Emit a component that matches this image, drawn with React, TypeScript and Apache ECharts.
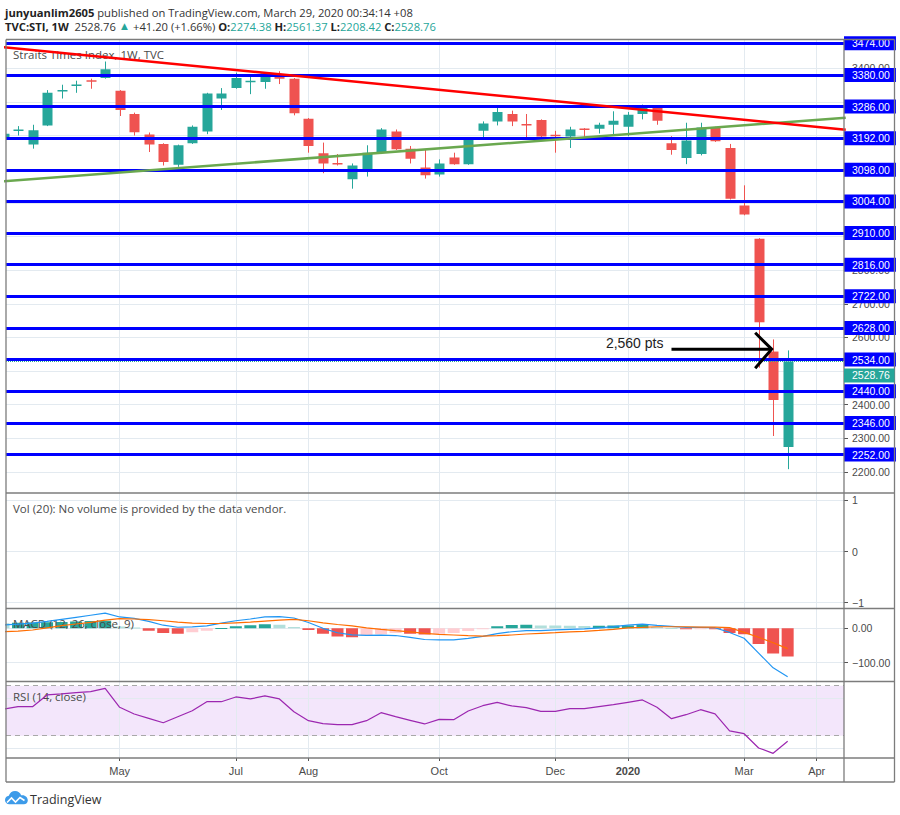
import React, { useEffect, useRef } from "react";
import * as echarts from "echarts";

// ---------------- data ----------------
// weekly bars, index 0 = week of 2019-03-11 ... index 54 = week of 2020-03-23
const opens = [3190, 3214, 3173, 3230, 3331, 3348, 3364, 3371, 3333, 3264, 3203, 3175, 3113, 3177, 3212, 3310, 3341, 3359, 3359, 3379, 3369, 3250, 3147, 3118, 3070, 3097, 3149, 3212, 3161, 3105, 3084, 3135, 3115, 3214, 3242, 3264, 3234, 3246, 3202, 3197, 3221, 3220, 3232, 3226, 3264, 3286, 3177, 3133, 3145, 3224, 3163, 2992, 2893, 2558, 2274.38];
const closes = [3205, 3218, 3216, 3327, 3335, 3352, 3360, 3397, 3276, 3210, 3173, 3121, 3171, 3226, 3325, 3325, 3371, 3363, 3385, 3369, 3266, 3169, 3117, 3115, 3111, 3149, 3218, 3159, 3131, 3082, 3117, 3115, 3191, 3236, 3270, 3242, 3230, 3197, 3198, 3218, 3219, 3232, 3244, 3262, 3286, 3244, 3157, 3185, 3224, 3183, 3012, 2965, 2645, 2414, 2528.76];
const lows = [3185, 3200, 3161, 3228, 3310, 3327, 3339, 3369, 3258, 3200, 3151, 3111, 3107, 3175, 3204, 3276, 3339, 3323, 3339, 3353, 3260, 3149, 3088, 3111, 3042, 3078, 3145, 3157, 3117, 3072, 3078, 3113, 3113, 3189, 3230, 3228, 3193, 3185, 3149, 3163, 3193, 3206, 3203, 3198, 3248, 3232, 3143, 3115, 3141, 3181, 3010, 2963, 2510, 2307, 2208.42];
const highs = [3210, 3228, 3232, 3335, 3351, 3363, 3369, 3420, 3335, 3268, 3209, 3177, 3173, 3230, 3327, 3341, 3387, 3379, 3387, 3391, 3371, 3252, 3179, 3145, 3117, 3171, 3222, 3218, 3169, 3159, 3129, 3149, 3193, 3242, 3290, 3274, 3264, 3248, 3214, 3226, 3222, 3238, 3272, 3270, 3292, 3288, 3198, 3238, 3238, 3226, 3175, 3052, 2895, 2594, 2561.37];

const macdLine = [10, 12, 15, 20, 26, 32, 38, 44, 33, 29, 20, 9, 3, 4, 7, 15, 22, 27, 33, 34, 30, 17, 0, -13, -19, -20.5, -20, -21, -26.6, -32.5, -33.5, -33.5, -29.5, -23.5, -15.5, -10, -6.5, -6.5, -4.6, -3, -1.7, 1.5, 5, 9, 12, 8.5, 5.5, 2.5, 2.7, 1.7, -12, -29, -72, -115, -140.7];
const signalLine = [-10, -8, -5, 1.5, 7.6, 12.5, 17, 24, 28, 27, 25, 22, 18, 15, 14, 14, 16, 18, 21, 24, 26, 22, 16, 11, 7, 1.5, -3, -7, -10.6, -14.5, -17.5, -19.5, -21.5, -22.5, -21.5, -19.5, -16.5, -14.5, -12.6, -10.5, -8.7, -6, -3, 1, 2.5, 4.5, 4.5, 4.5, 3.7, 3.7, 2, -12, -26, -42, -59];
const macdHist = [15, 16, 17, 17.5, 18.5, 19.5, 21, 22, 5, 2.5, -7, -14, -16, -11.5, -7, 1, 6, 9, 12, 10, 4, -5, -16, -24, -26, -22, -17, -14, -16, -18, -16, -14, -8, -1, 6, 9.5, 10, 8, 8, 7.5, 7, 7.5, 8, 8.5, 9.5, 4, 1, -2, -1, -2, -14, -17, -46, -73, -81.7];
const rsiLine = [51.3, 53.2, 53.2, 62.6, 63.4, 64.4, 65.2, 67.9, 52.7, 47.4, 43.9, 40.4, 45.2, 50, 57.2, 57.2, 61, 59.4, 61.8, 59.4, 49.2, 42, 39.6, 38.9, 38.9, 42, 48.4, 45.2, 42.3, 39.4, 43.1, 42.8, 49.8, 54, 56.7, 53.8, 52.4, 49.5, 49.5, 51.6, 51.6, 53.2, 54.8, 56.7, 58.6, 52.7, 43.6, 46.8, 50.8, 47.4, 33.8, 31.6, 20.2, 15.9, 25.5];

const priceLevels = [3474, 3380, 3286, 3192, 3098, 3004, 2910, 2816, 2722, 2628, 2534, 2440, 2346, 2252];
const priceGrid = [2200, 2300, 2400, 2500, 2600, 2700, 2800, 2900, 3000, 3100, 3200, 3300, 3400];
const priceTickLabels = [2200, 2300, 2400, 2600, 2700, 2800, 3400];
const volTicks = [-1, 0, 1];
const macdTicks = [-100, 0];
const rsiGridTicks = [20, 60];
const rsiBand = [30, 70];
const monthTickIndex = [8, 16, 21, 30, 38, 43, 51, 56];
const monthTickLabels = ["May", "Jul", "Aug", "Oct", "Dec", "2020", "Mar", "Apr"];
const redTrend = [[0, 3462.5], [58, 3217.5]];
const greenTrend = [[0, 3064], [58, 3253]];
const lastPrice = 2528.76;
const arrowTip = [52.9, 2565];
const arrowTail = [46.0, 2565];
const arrowLabel = "2,560 pts";

// ---------------- styles / layout ----------------
const TEAL = "#26a69a";
const RED = "#ef5350";
const BLUE = "#0000ff";
const GRID = "#e3eaf0";
const SEP = "#7c7c7c";
const TXT = "#4a4a4a";
const FONT = "'Open Sans', 'Liberation Sans', sans-serif";
const AFONT = "'Liberation Sans', 'DejaVu Sans', sans-serif";

const X_MIN = 0.172;
const X_MAX = 57.88;
const PANES = [
  { top: 39.5, height: 453.5, min: 2137.6, max: 3485.4 },
  { top: 493, height: 115.5, min: -1.113, max: 1.143 },
  { top: 608.5, height: 73, min: -154.7, max: 57.6 },
  { top: 681.5, height: 76.5, min: 12.16, max: 73.36 },
];
const LEFT = 6;
const PLOT_RIGHT = 844;
const RIGHT = 894.5;
const BOTTOM = 782;

const LOGO_D =
  "M4.5 14 C2 14 0 12 0 9.5 C0 7.2 1.8 5.3 4 5.1 C4.8 2.1 7.5 0 10.6 0 C13.6 0 16.1 1.9 17 4.6 C17.5 4.5 18 4.4 18.5 4.4 C21.5 4.4 24 6.9 24 9.9 C24 12.2 22.2 14 19.9 14 Z";
echarts.graphic.registerShape("tvlogo", echarts.graphic.extendPath(LOGO_D, {}));

function histColor(i: number) {
  const v = macdHist[i];
  const prev = i > 0 ? macdHist[i - 1] : v + 1;
  if (v >= 0) return v > prev ? "#26a69a" : "#b2dfdb";
  return v < prev ? "#ef5350" : "#ffcdd2";
}

function vGridLines() {
  return monthTickIndex.map((v) => ({ xAxis: v }));
}

export default function App() {
  const ref = useRef<HTMLDivElement>(null);

  useEffect(() => {
    if (!ref.current) return;
    const chart = echarts.init(ref.current, undefined, { renderer: "svg" });

    const candleRows = opens.map((o, i) => [i, o, closes[i], lows[i], highs[i]]);
    const histRows = macdHist.map((v, i) => [i, v]);

    const grids = PANES.map((p) => ({
      left: LEFT,
      right: 900 - PLOT_RIGHT,
      top: p.top,
      height: p.height,
      show: false,
    }));

    const xAxes = PANES.map((p, k) => ({
      gridIndex: k,
      type: "value",
      min: X_MIN,
      max: X_MAX,
      axisLine: { show: false },
      splitLine: { show: false },
      axisTick: {
        show: k === 3,
        customValues: monthTickIndex,
        length: 3,
        lineStyle: { color: "#555" },
      },
      axisLabel: {
        show: k === 3,
        customValues: monthTickIndex,
        margin: 7,
        fontSize: 11,
        fontFamily: AFONT,
        color: TXT,
        formatter: (v: number) => {
          const j = monthTickIndex.findIndex((m) => Math.abs(m - v) < 0.01);
          if (j < 0) return "";
          const s = monthTickLabels[j];
          return s === "2020" ? "{b|" + s + "}" : s;
        },
        rich: { b: { fontWeight: "bold", fontSize: 11, fontFamily: AFONT, color: TXT } },
      },
    }));

    const labelSets = [priceTickLabels, volTicks, macdTicks, rsiGridTicks];
    const tickSets = [priceGrid, volTicks, macdTicks, rsiGridTicks];
    const fmt = [
      (v: number) => v.toFixed(2),
      (v: number) => (v < 0 ? "\u2212" + Math.abs(v) : String(v)),
      (v: number) => (v < 0 ? "\u2212" + Math.abs(v).toFixed(2) : v.toFixed(2)),
      (v: number) => String(v),
    ];
    const yAxes = PANES.map((p, k) => ({
      gridIndex: k,
      type: "value",
      position: "right",
      min: p.min,
      max: p.max,
      axisLine: { show: false },
      splitLine: { show: false },
      axisTick: {
        show: k !== 3,
        customValues: tickSets[k],
        length: 4,
        lineStyle: { color: "#555" },
      },
      axisLabel: {
        show: k !== 3,
        customValues: labelSets[k],
        margin: 8,
        fontSize: 10.5,
        fontFamily: AFONT,
        color: TXT,
        formatter: fmt[k],
      },
    }));

    const gridLineStyle = { color: GRID, width: 1, type: "solid" };

    const series: any[] = [
      // main pane: candles
      {
        type: "custom",
        xAxisIndex: 0,
        yAxisIndex: 0,
        clip: true,
        z: 3,
        data: candleRows,
        encode: { x: 0, y: [1, 2, 3, 4] },
        renderItem: (params: any, api: any) => {
          const i = api.value(0);
          const po = api.coord([i, api.value(1)]);
          const pc = api.coord([i, api.value(2)]);
          const pl = api.coord([i, api.value(3)]);
          const ph = api.coord([i, api.value(4)]);
          const color = api.value(2) >= api.value(1) ? TEAL : RED;
          const cx = Math.round(po[0]) + 0.5;
          const top = Math.min(po[1], pc[1]);
          const h = Math.max(Math.abs(po[1] - pc[1]), 1.5);
          return {
            type: "group",
            children: [
              { type: "line", shape: { x1: cx, y1: ph[1], x2: cx, y2: pl[1] }, style: { stroke: color, lineWidth: 1 } },
              { type: "rect", shape: { x: cx - 5, y: top, width: 10, height: h }, style: { fill: color } },
            ],
          };
        },
      },
      // main pane: green trend + grid lines
      {
        type: "line",
        xAxisIndex: 0,
        yAxisIndex: 0,
        data: greenTrend,
        showSymbol: false,
        silent: true,
        z: 10,
        lineStyle: { color: "#6aa84f", width: 2.5 },
        markLine: {
          silent: true,
          symbol: ["none", "none"],
          z: 1,
          label: { show: false },
          lineStyle: gridLineStyle,
          data: [...vGridLines(), ...priceGrid.map((v) => ({ yAxis: v }))],
        },
      },
      // main pane: red trend + horizontal levels
      {
        type: "line",
        xAxisIndex: 0,
        yAxisIndex: 0,
        data: redTrend,
        showSymbol: false,
        silent: true,
        z: 10,
        lineStyle: { color: "#ff0000", width: 2.5 },
        markLine: {
          silent: true,
          symbol: ["none", "none"],
          z: 5,
          lineStyle: { color: BLUE, width: 3.2, type: "solid" },
          label: {
            show: true,
            position: "end",
            distance: 0,
            color: "#ffffff",
            backgroundColor: BLUE,
            padding: [2, 6, 1, 8],
            lineHeight: 11,
            fontSize: 10.5,
            fontFamily: AFONT,
            formatter: (p: any) => Number(p.value).toFixed(2),
          },
          data: [
            { yAxis: lastPrice, lineStyle: { color: TEAL, width: 1, type: "dotted" }, label: { show: false } },
            ...priceLevels.map((v) => ({ yAxis: v })),
          ],
        },
      },
      // vol pane: placeholder carrying grid lines
      {
        type: "line",
        xAxisIndex: 1,
        yAxisIndex: 1,
        data: [[X_MIN, 0]],
        showSymbol: false,
        silent: true,
        lineStyle: { opacity: 0 },
        markLine: {
          silent: true,
          symbol: ["none", "none"],
          z: 1,
          label: { show: false },
          lineStyle: gridLineStyle,
          data: [...vGridLines(), ...volTicks.map((v) => ({ yAxis: v }))],
        },
      },
      // MACD histogram
      {
        type: "custom",
        xAxisIndex: 2,
        yAxisIndex: 2,
        clip: true,
        z: 3,
        data: histRows,
        encode: { x: 0, y: 1 },
        renderItem: (params: any, api: any) => {
          const i = api.value(0);
          const p0 = api.coord([i, 0]);
          const p1 = api.coord([i, api.value(1)]);
          return {
            type: "rect",
            shape: {
              x: p0[0] - 6,
              y: Math.min(p0[1], p1[1]),
              width: 12,
              height: Math.max(Math.abs(p1[1] - p0[1]), 1),
            },
            style: { fill: histColor(params.dataIndex) },
          };
        },
      },
      {
        type: "line",
        xAxisIndex: 2,
        yAxisIndex: 2,
        data: macdLine.map((v, i) => [i, v]),
        showSymbol: false,
        silent: true,
        z: 5,
        lineStyle: { color: "#2196f3", width: 1.2 },
        markLine: {
          silent: true,
          symbol: ["none", "none"],
          z: 1,
          label: { show: false },
          lineStyle: gridLineStyle,
          data: [...vGridLines(), ...macdTicks.map((v) => ({ yAxis: v }))],
        },
      },
      {
        type: "line",
        xAxisIndex: 2,
        yAxisIndex: 2,
        data: signalLine.map((v, i) => [i, v]),
        showSymbol: false,
        silent: true,
        z: 5,
        lineStyle: { color: "#ff6d00", width: 1.2 },
      },
      // RSI
      {
        type: "line",
        xAxisIndex: 3,
        yAxisIndex: 3,
        data: rsiLine.map((v, i) => [i, v]),
        showSymbol: false,
        silent: true,
        z: 6,
        lineStyle: { color: "#9c27b0", width: 1.2 },
        markArea: {
          silent: true,
          itemStyle: { color: "#f3e6fb" },
          data: [[{ yAxis: rsiBand[0] }, { yAxis: rsiBand[1] }]],
        },
        markLine: {
          silent: true,
          symbol: ["none", "none"],
          z: 2,
          label: { show: false },
          lineStyle: gridLineStyle,
          data: [
            ...vGridLines(),
            ...rsiGridTicks.map((v) => ({ yAxis: v })),
            ...rsiBand.map((v) => ({ yAxis: v, lineStyle: { color: "#a8a8a8", width: 1, type: [5, 4] } })),
          ],
        },
      },
    ];

    const sepY = [PANES[0].top, PANES[1].top, PANES[2].top, PANES[3].top, PANES[3].top + PANES[3].height, BOTTOM];
    const frame: any[] = [
      ...sepY.map((y) => ({
        type: "line",
        z: 50,
        shape: { x1: LEFT, y1: y, x2: RIGHT, y2: y },
        style: { stroke: SEP, lineWidth: 1.3 },
      })),
      ...[LEFT, PLOT_RIGHT, RIGHT].map((x) => ({
        type: "line",
        z: 50,
        shape: { x1: x, y1: PANES[0].top, x2: x, y2: BOTTOM },
        style: { stroke: SEP, lineWidth: 1.3 },
      })),
    ];

    const texts: any[] = [
      {
        type: "text",
        x: 5,
        y: 12,
        z: 60,
        style: {
          text: "{b|junyuanlim2605} published on TradingView.com, March 29, 2020 00:34:14 +08",
          fontSize: 11.2,
          fontFamily: FONT,
          fill: "#333",
          verticalAlign: "middle",
          rich: { b: { fontWeight: "bold", fontSize: 11.2, fontFamily: FONT, fill: "#222" } },
        },
      },
      {
        type: "text",
        x: 5,
        y: 26,
        z: 60,
        style: {
          text:
            "{b|TVC:STI, 1W}  2528.76 {t|\u25B2} +41.20 (+1.66%) {b|O:}{v|2274.38} {b|H:}{v|2561.37} {b|L:}{v|2208.42} {b|C:}{v|2528.76}",
          fontSize: 11.2,
          fontFamily: FONT,
          fill: "#333",
          verticalAlign: "middle",
          rich: {
            b: { fontWeight: "bold", fontSize: 11.2, fontFamily: FONT, fill: "#222" },
            v: { fontSize: 11.2, fontFamily: FONT, fill: TEAL },
            t: { fontSize: 11.5, fontFamily: AFONT, fill: TEAL },
          },
        },
      },
      { type: "text", x: 13, y: 54, z: 1, style: { text: "Straits Times Index, 1W, TVC", fontSize: 11.5, fontFamily: FONT, fill: TXT, verticalAlign: "middle" } },
      { type: "text", x: 13, y: 508, z: 60, style: { text: "Vol (20): No volume is provided by the data vendor.", fontSize: 11.5, fontFamily: FONT, fill: TXT, verticalAlign: "middle" } },
      { type: "text", x: 13, y: 623.5, z: 4, style: { text: "MACD (12, 26, close, 9)", fontSize: 11.5, fontFamily: FONT, fill: TXT, verticalAlign: "middle" } },
      { type: "text", x: 13, y: 696, z: 4, style: { text: "RSI (14, close)", fontSize: 11.5, fontFamily: FONT, fill: TXT, verticalAlign: "middle" } },
      { type: "tvlogo", x: 5, y: 791, scaleX: 0.95, scaleY: 0.95, z: 60, style: { fill: "#3d9be9" } },
      {
        type: "polyline",
        z: 61,
        shape: { points: [[7, 802.5], [11.5, 798], [15.5, 802], [20, 797.5], [24.5, 800.5]] },
        style: { stroke: "#ffffff", lineWidth: 1.6, fill: null },
      },
      { type: "text", x: 30, y: 799, z: 60, style: { text: "TradingView", fontSize: 12.5, fontFamily: FONT, fill: "#333", verticalAlign: "middle" } },
    ];

    chart.setOption({
      animation: false,
      backgroundColor: "#ffffff",
      grid: grids,
      xAxis: xAxes,
      yAxis: yAxes,
      series,
    });

    // annotations anchored to data coordinates
    const tip = chart.convertToPixel({ gridIndex: 0 }, arrowTip) as number[];
    const tail = chart.convertToPixel({ gridIndex: 0 }, arrowTail) as number[];
    const lastY = chart.convertToPixel({ yAxisIndex: 0 }, lastPrice) as unknown as number;

    const annotations: any[] = [
      {
        type: "line",
        z: 70,
        shape: { x1: tail[0], y1: tail[1], x2: tip[0] - 1, y2: tip[1] },
        style: { stroke: "#000", lineWidth: 3 },
      },
      {
        type: "polyline",
        z: 70,
        shape: { points: [[tip[0] - 16.5, tip[1] - 16.5], [tip[0], tip[1]], [tip[0] - 16.5, tip[1] + 19]] },
        style: { stroke: "#000", lineWidth: 3, fill: null },
      },
      {
        type: "text",
        z: 70,
        x: tail[0] - 8,
        y: tail[1] - 6.5,
        style: { text: arrowLabel, fontSize: 14, fontFamily: AFONT, fill: "#222", align: "right", verticalAlign: "middle" },
      },
      {
        type: "rect",
        z: 70,
        shape: { x: PLOT_RIGHT, y: lastY + 14 - 7, width: RIGHT - PLOT_RIGHT, height: 14 },
        style: { fill: TEAL },
      },
      {
        type: "text",
        z: 71,
        x: PLOT_RIGHT + 8,
        y: lastY + 14,
        style: { text: lastPrice.toFixed(2), fontSize: 10.5, fontFamily: AFONT, fill: "#fff", verticalAlign: "middle" },
      },
    ];

    chart.setOption({ graphic: { elements: [...frame, ...texts, ...annotations] } });

    return () => {
      chart.dispose();
    };
  }, []);

  return (
    <div
      ref={ref}
      style={{ position: "fixed", left: 0, top: 0, width: 900, height: 815, background: "#fff" }}
    />
  );
}
